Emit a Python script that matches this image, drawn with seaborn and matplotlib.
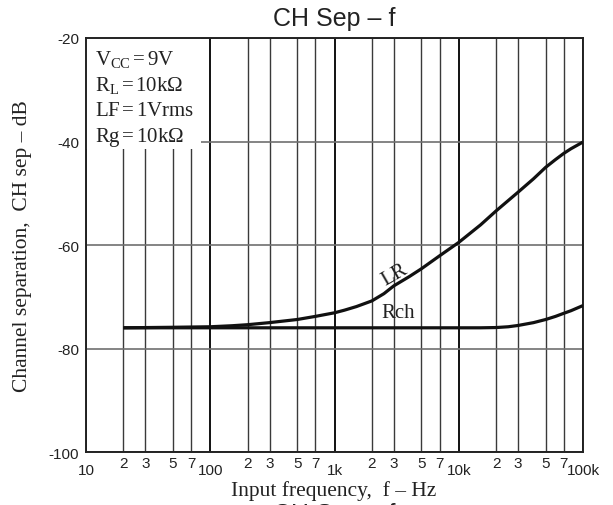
import numpy as np
import pandas as pd
import matplotlib
matplotlib.use("Agg")
import matplotlib.pyplot as plt
import matplotlib.ticker as mticker
from matplotlib.patches import Rectangle
import seaborn as sns

# ---- data ----
freq_lr = [20, 50, 100, 150, 200, 300, 500, 700, 1000, 1200, 1500, 2000, 2500, 3000, 4000, 5000, 7000,
           10000, 15000, 20000, 30000, 40000, 50000, 60000, 70000, 80000, 100000]
sep_lr = [-76.0, -75.9, -75.8, -75.6, -75.4, -75.0, -74.4, -73.8, -73.1, -72.6, -71.9, -70.8, -69.4,
          -67.9, -66.1, -64.6, -62.1, -59.5, -56.1, -53.4, -49.8, -47.2, -45.0, -43.5, -42.3, -41.4, -40.1]
freq_rch = [20, 100, 1000, 10000, 15000, 20000, 25000, 30000, 40000, 50000, 60000, 70000, 80000, 100000]
sep_rch = [-76.0, -76.0, -76.0, -76.0, -76.0, -75.95, -75.8, -75.55, -75.0, -74.4, -73.8, -73.2, -72.7, -71.7]

major_ticks = [10, 100, 1000, 10000, 100000]
major_labels = ["10", "100", "1k", "10k", "100k"]
minor_mult = [2, 3, 5, 7]
y_ticks = [-100, -80, -60, -40, -20]

title = "CH Sep \u2013 f"
xlabel = "Input frequency,  f \u2013 Hz"
ylabel = "Channel separation,  CH sep \u2013 dB"
cond_lines = [r"V$_{\mathrm{CC}}$$\,$=$\,$9V", r"R$_{\mathrm{L}}$$\,$=$\,$10k$\Omega$",
              r"LF$\,$=$\,$1Vrms", r"Rg$\,$=$\,$10k$\Omega$"]

df = pd.concat([
    pd.DataFrame({"f": freq_lr, "sep": sep_lr, "ch": "LR"}),
    pd.DataFrame({"f": freq_rch, "sep": sep_rch, "ch": "Rch"}),
])

sns.set_style("white")
plt.rcParams["font.family"] = ["Liberation Sans", "DejaVu Sans"]
plt.rcParams["mathtext.fontset"] = "custom"
plt.rcParams["mathtext.rm"] = "Liberation Serif"
plt.rcParams["mathtext.it"] = "Liberation Serif:italic"
plt.rcParams["mathtext.bf"] = "Liberation Serif:bold"

W, H = 613, 506
fig = plt.figure(figsize=(W / 100, H / 100), dpi=100)
L, R, T, B = 86, 583, 39, 453
ax = fig.add_axes([L / W, 1 - B / H, (R - L) / W, (B - T) / H])

sns.lineplot(data=df, x="f", y="sep", hue="ch", palette=["#111111", "#111111"],
             linewidth=2.3, legend=False, ax=ax, zorder=3, estimator=None, sort=True)
for ln in ax.lines:
    ln.set_solid_joinstyle("round")
    ln.set_solid_capstyle("butt")

ax.set_xscale("log")
ax.set_xlim(10, 100000)
ax.set_ylim(-100, -20)

ax.xaxis.set_major_locator(mticker.FixedLocator(major_ticks))
ax.xaxis.set_major_formatter(mticker.FixedFormatter(major_labels))
minor_pos = [m * d for d in major_ticks[:-1] for m in minor_mult]
ax.xaxis.set_minor_locator(mticker.FixedLocator(minor_pos))
ax.xaxis.set_minor_formatter(mticker.FixedFormatter([str(m) for d in major_ticks[:-1] for m in minor_mult]))
ax.set_yticks(y_ticks)
ax.set_yticklabels([str(v) for v in y_ticks])

ax.tick_params(axis="x", which="major", length=0, pad=8, labelsize=11, colors="#222222")
ax.tick_params(axis="x", which="minor", length=0, pad=3, labelsize=11, colors="#222222")
ax.tick_params(axis="y", length=0, pad=5, labelsize=11, colors="#222222")

ax.set_axisbelow(True)
ax.grid(True, axis="x", which="major", color="#111111", linewidth=1.4)
ax.grid(True, axis="x", which="minor", color="#3a3a3a", linewidth=1.0)
ax.grid(True, axis="y", which="major", color="#707070", linewidth=1.2)

for s in ax.spines.values():
    s.set_color("#222222")
    s.set_linewidth(1.4)

# white box behind the conditions
ax.add_patch(Rectangle((0, 1 - (150 - T) / (B - T)), (201 - L) / (R - L), (150 - T) / (B - T),
                       transform=ax.transAxes, facecolor="white", edgecolor="none", zorder=1))

serif = ["Liberation Serif", "DejaVu Serif"]
for i, line in enumerate(cond_lines):
    ypx = 65 + i * 25.7
    ax.text((95 - L) / (R - L), 1 - (ypx - T) / (B - T), line, transform=ax.transAxes,
            ha="left", va="baseline", fontsize=15, family=serif, color="#222222", zorder=4)

def px2ax(xp, yp):
    return (xp - L) / (R - L), 1 - (yp - T) / (B - T)

ax.text(*px2ax(395, 275), "LR", transform=ax.transAxes, rotation=30, ha="center", va="center",
        fontsize=15, family=serif, color="#222222", zorder=4)
ax.text(*px2ax(398, 314), "Rch", transform=ax.transAxes, ha="center", va="center",
        fontsize=15, family=serif, color="#222222", zorder=4)

ax.set_xlabel(xlabel, fontsize=15.5, family=serif, color="#222222", va="center")
ax.xaxis.set_label_coords(*px2ax(334, 491))
ax.set_ylabel(ylabel, fontsize=15.5, family=serif, color="#222222", va="center")
ax.yaxis.set_label_coords(*px2ax(23, 246))

fig.text(334 / W, 1 - 19 / H, title, ha="center", va="center", fontsize=18, color="#222222")
# cut-off duplicate caption at the very bottom, as in the reference
fig.text(334 / W, 1 - 503 / H, title, ha="center", va="top", fontsize=18, color="#222222")

fig.savefig("out.png", dpi=100, facecolor="white")
